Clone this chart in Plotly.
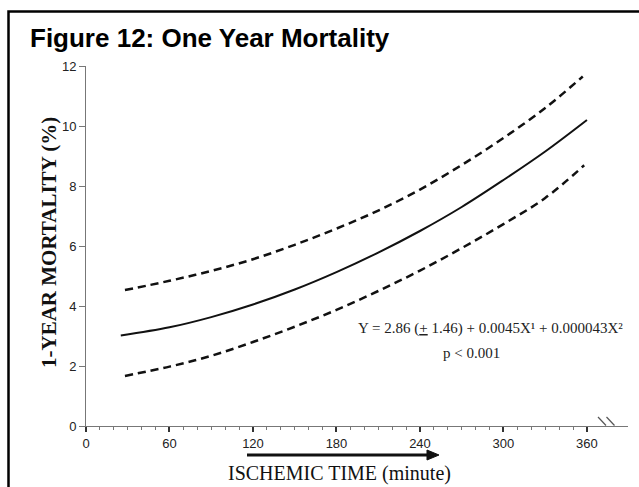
import plotly.graph_objects as go

# ---- data ----
minutes_mid = [25, 60, 90, 120, 150, 180, 210, 240, 270, 300, 330, 360]
mortality_mid = [3.02, 3.29, 3.63, 4.05, 4.55, 5.13, 5.78, 6.5, 7.3, 8.2, 9.15, 10.2]

minutes_upper = [28, 60, 90, 120, 150, 180, 210, 240, 270, 300, 330, 357]
mortality_upper = [4.53, 4.84, 5.17, 5.56, 6.04, 6.58, 7.18, 7.88, 8.7, 9.6, 10.6, 11.65]

minutes_lower = [28, 60, 90, 120, 150, 180, 210, 240, 270, 300, 330, 358]
mortality_lower = [1.67, 1.98, 2.34, 2.8, 3.31, 3.87, 4.5, 5.18, 5.93, 6.73, 7.6, 8.69]

x_ticks = [0, 60, 120, 180, 240, 300, 360]
x_minor_ticks = [m for m in range(10, 360, 10) if m % 60 != 0]
y_ticks = [0, 2, 4, 6, 8, 10, 12]

title_text = "Figure 12: One Year Mortality"
y_title = "1-YEAR MORTALITY (%)"
x_title = "ISCHEMIC TIME (minute)"
equation = "Y = 2.86 (<u>+</u> 1.46) + 0.0045X¹ + 0.000043X²"
p_text = "p &lt; 0.001"

# ---- layout geometry (pixels) ----
W, H = 639, 487
L, R, T, B = 86, 11, 66, 61
PW = W - L - R
PH = H - T - B


def px(x):
    return (x - L) / PW


def py(y):
    return (H - B - y) / PH


fig = go.Figure()
dash_style = "8px,5px"
fig.add_trace(go.Scatter(x=minutes_upper, y=mortality_upper, mode="lines",
                         line=dict(color="#111", width=2.5, dash=dash_style, shape="spline"),
                         hoverinfo="skip"))
fig.add_trace(go.Scatter(x=minutes_mid, y=mortality_mid, mode="lines",
                         line=dict(color="#111", width=2, shape="spline"),
                         hoverinfo="skip"))
fig.add_trace(go.Scatter(x=minutes_lower, y=mortality_lower, mode="lines",
                         line=dict(color="#111", width=2.5, dash=dash_style, shape="spline"),
                         hoverinfo="skip"))

tick_font = dict(family="Arial, Liberation Sans, sans-serif", size=13, color="#222")
serif = "Times New Roman, Liberation Serif, serif"

fig.update_layout(
    width=W, height=H,
    margin=dict(l=L, r=R, t=T, b=B),
    paper_bgcolor="white", plot_bgcolor="white",
    showlegend=False,
    title=dict(text="<b>" + title_text + "</b>", x=30 / W, xanchor="left",
               y=1 - 38 / H, yanchor="middle", xref="container", yref="container",
               font=dict(family="Arial, Liberation Sans, sans-serif", size=26, color="#000")),
    xaxis=dict(range=[0, 389.5], showgrid=False, zeroline=False,
               showline=True, linecolor="#777", linewidth=1,
               tickmode="array", tickvals=x_ticks, ticks="outside", ticklen=5,
               tickwidth=2, tickcolor="#333", tickfont=tick_font,
               minor=dict(tickmode="array", tickvals=x_minor_ticks, ticks="outside",
                          ticklen=3, tickwidth=1, tickcolor="#777", showgrid=False)),
    yaxis=dict(range=[0, 12], showgrid=False, zeroline=False,
               showline=True, linecolor="#777", linewidth=1,
               tickmode="array", tickvals=y_ticks, ticks="outside", ticklen=6,
               tickwidth=1, tickcolor="#777", tickfont=tick_font),
)

annotations = [
    dict(text="<b>" + y_title + "</b>", x=px(49), y=py(243), xref="paper", yref="paper",
         textangle=-90, showarrow=False, xanchor="center", yanchor="middle",
         font=dict(family=serif, size=21, color="#111")),
    dict(text=x_title, x=px(339.5), y=py(473), xref="paper", yref="paper",
         showarrow=False, xanchor="center", yanchor="middle",
         font=dict(family=serif, size=20, color="#111")),
    dict(text=equation, x=px(490), y=py(328), xref="paper", yref="paper",
         showarrow=False, xanchor="center", yanchor="middle",
         font=dict(family=serif, size=15, color="#222")),
    dict(text=p_text, x=px(471), y=py(353), xref="paper", yref="paper",
         showarrow=False, xanchor="center", yanchor="middle",
         font=dict(family=serif, size=15, color="#222")),
]
fig.update_layout(annotations=annotations)

shapes = [
    # outer frame (left and top edges visible; extends beyond the picture)
    dict(type="rect", xref="paper", yref="paper", x0=px(8.5), y0=py(520), x1=px(680), y1=py(11.5),
         line=dict(color="#000", width=2.5), fillcolor="rgba(0,0,0,0)", layer="above"),
    # arrow under x axis
    dict(type="line", xref="paper", yref="paper", x0=px(247), y0=py(455), x1=px(430), y1=py(455),
         line=dict(color="#111", width=3)),
    dict(type="path", xref="paper", yref="paper",
         path="M {:.5f},{:.5f} L {:.5f},{:.5f} L {:.5f},{:.5f} Z".format(
             px(427), py(450), px(439), py(455), px(427), py(460)),
         fillcolor="#111", line=dict(color="#111", width=1)),
    # axis break marks
    dict(type="line", xref="paper", yref="paper", x0=px(598), y0=py(417), x1=px(606), y1=py(425.5),
         line=dict(color="#555", width=1.2)),
    dict(type="line", xref="paper", yref="paper", x0=px(606.5), y0=py(417), x1=px(614.5), y1=py(425.5),
         line=dict(color="#555", width=1.2)),
]
fig.update_layout(shapes=shapes)

fig.write_html("out.html", config={"displayModeBar": False},
               post_script="document.body.style.margin='0px';document.body.style.padding='0px';")
